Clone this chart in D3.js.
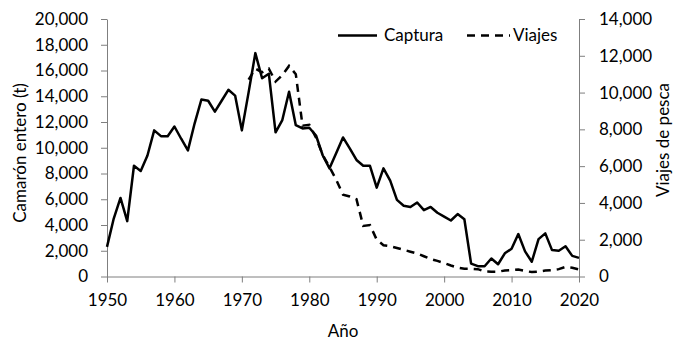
<!DOCTYPE html>
<html>
<head>
<meta charset="utf-8">
<script src="https://cdn.jsdelivr.net/npm/d3@7"></script>
<style>
  body { margin: 0; background: #fff; }
  #wrapper text { font-family: Lato, "Open Sans", sans-serif; fill: #000; }
</style>
</head>
<body>
<div id="wrapper"></div>
<script>
const years = [1950, 1951, 1952, 1953, 1954, 1955, 1956, 1957, 1958, 1959,
  1960, 1961, 1962, 1963, 1964, 1965, 1966, 1967, 1968, 1969,
  1970, 1971, 1972, 1973, 1974, 1975, 1976, 1977, 1978, 1979,
  1980, 1981, 1982, 1983, 1984, 1985, 1986, 1987, 1988, 1989,
  1990, 1991, 1992, 1993, 1994, 1995, 1996, 1997, 1998, 1999,
  2000, 2001, 2002, 2003, 2004, 2005, 2006, 2007, 2008, 2009,
  2010, 2011, 2012, 2013, 2014, 2015, 2016, 2017, 2018, 2019, 2020]

// camarón entero (t)
const captura = [2300, 4500, 6100, 4300, 8600, 8200, 9400, 11350, 10900, 10900,
  11650, 10700, 9800, 11900, 13750, 13650, 12800, 13650, 14500, 14050,
  11350, 14300, 17350, 15400, 15750, 11200, 12150, 14350, 11750, 11500,
  11550, 10950, 9400, 8400, 9600, 10800, 9950, 9050, 8600, 8600,
  6900, 8400, 7450, 5950, 5500, 5400, 5750, 5150, 5400, 4950,
  4650, 4350, 4850, 4450, 1000, 800, 800, 1400, 950, 1800,
  2150, 3300, 1950, 1150, 2900, 3350, 2050, 2000, 2350, 1600, 1450]

// viajes de pesca (sin datos antes de 1971)
const viajes = [null, null, null, null, null, null, null, null, null, null,
  null, null, null, null, null, null, null, null, null, null,
  null, 10700, 11300, 11100, 11300, 10600, 10950, 11450, 11000, 8200,
  8250, 7550, 6600, 5950, 5250, 4450, 4350, 4200, 2750, 2800,
  2000, 1700, 1650, 1550, 1450, 1350, 1250, 1100, 950, 850,
  730, 600, 480, 420, 420, 400, 270, 260, 260, 330,
  350, 380, 300, 240, 270, 320, 350, 400, 520, 480, 380]

const xTicks = [1950, 1960, 1970, 1980, 1990, 2000, 2010, 2020]
const yLeftTicks = [0, 2000, 4000, 6000, 8000, 10000, 12000, 14000, 16000, 18000, 20000]
const yRightTicks = [0, 2000, 4000, 6000, 8000, 10000, 12000, 14000]

const dataset = years.map((year, i) => ({ year, captura: captura[i], viajes: viajes[i] }))

let dimensions = {
  width: 684,
  height: 345,
  margin: { top: 19, right: 105, bottom: 68.5, left: 107 }
}
dimensions.boundedWidth = dimensions.width - dimensions.margin.left - dimensions.margin.right
dimensions.boundedHeight = dimensions.height - dimensions.margin.top - dimensions.margin.bottom

const wrapper = d3.select('#wrapper')
  .append("svg")
    .attr("width", dimensions.width)
    .attr("height", dimensions.height)
const bounds = wrapper.append("g")
  .attr("transform", `translate(${dimensions.margin.left}, ${dimensions.margin.top})`)

const xScale = d3.scaleLinear().domain([1950, 2020]).range([0, dimensions.boundedWidth])
const yLeft = d3.scaleLinear().domain([0, 20000]).range([dimensions.boundedHeight, 0])
const yRight = d3.scaleLinear().domain([0, 14000]).range([dimensions.boundedHeight, 0])

const fmt = d3.format(",")
const axisColor = "#7f7f7f"
const fontSize = "17px"

function styleAxis(g) {
  g.select(".domain").attr("stroke", axisColor).attr("stroke-width", 1)
  g.selectAll(".tick line").attr("stroke", axisColor).attr("stroke-width", 1)
  g.selectAll(".tick text").style("font-size", fontSize).attr("fill", "#000")
}

bounds.append("g")
  .attr("transform", `translate(0, ${dimensions.boundedHeight})`)
  .call(d3.axisBottom(xScale).tickValues(xTicks).tickFormat(d3.format("d"))
    .tickSizeInner(6).tickSizeOuter(0).tickPadding(11))
  .call(styleAxis)

bounds.append("g")
  .call(d3.axisLeft(yLeft).tickValues(yLeftTicks).tickFormat(fmt)
    .tickSizeInner(6).tickSizeOuter(0).tickPadding(13))
  .call(styleAxis)

bounds.append("g")
  .attr("transform", `translate(${dimensions.boundedWidth}, 0)`)
  .call(d3.axisRight(yRight).tickValues(yRightTicks).tickFormat(fmt)
    .tickSizeInner(6).tickSizeOuter(0).tickPadding(14))
  .call(styleAxis)

const capturaLine = d3.line()
  .x(d => xScale(d.year))
  .y(d => yLeft(d.captura))

const viajesLine = d3.line()
  .defined(d => d.viajes != null)
  .x(d => xScale(d.year))
  .y(d => yRight(d.viajes))

bounds.append("path")
  .attr("d", viajesLine(dataset))
  .attr("fill", "none")
  .attr("stroke", "#000")
  .attr("stroke-width", 2.5)
  .attr("stroke-dasharray", "8,6")

bounds.append("path")
  .attr("d", capturaLine(dataset))
  .attr("fill", "none")
  .attr("stroke", "#000")
  .attr("stroke-width", 2.5)
  .attr("stroke-linejoin", "round")

// axis titles
wrapper.append("text")
  .attr("x", 343).attr("y", 337)
  .attr("text-anchor", "middle")
  .style("font-size", fontSize)
  .text("Año")

wrapper.append("text")
  .attr("transform", "translate(26, 153) rotate(-90)")
  .attr("text-anchor", "middle")
  .style("font-size", fontSize)
  .text("Camarón entero (t)")

wrapper.append("text")
  .attr("transform", "translate(669, 140) rotate(-90)")
  .attr("text-anchor", "middle")
  .style("font-size", fontSize)
  .text("Viajes de pesca")

// legend
const legend = wrapper.append("g")
legend.append("line")
  .attr("x1", 338).attr("x2", 377).attr("y1", 35.5).attr("y2", 35.5)
  .attr("stroke", "#000").attr("stroke-width", 2.5)
legend.append("text")
  .attr("x", 384).attr("y", 41)
  .style("font-size", fontSize)
  .text("Captura")
legend.append("line")
  .attr("x1", 467).attr("x2", 510).attr("y1", 35.5).attr("y2", 35.5)
  .attr("stroke", "#000").attr("stroke-width", 2.5)
  .attr("stroke-dasharray", "8,6")
legend.append("text")
  .attr("x", 513).attr("y", 41)
  .style("font-size", fontSize)
  .text("Viajes")
</script>
</body>
</html>
